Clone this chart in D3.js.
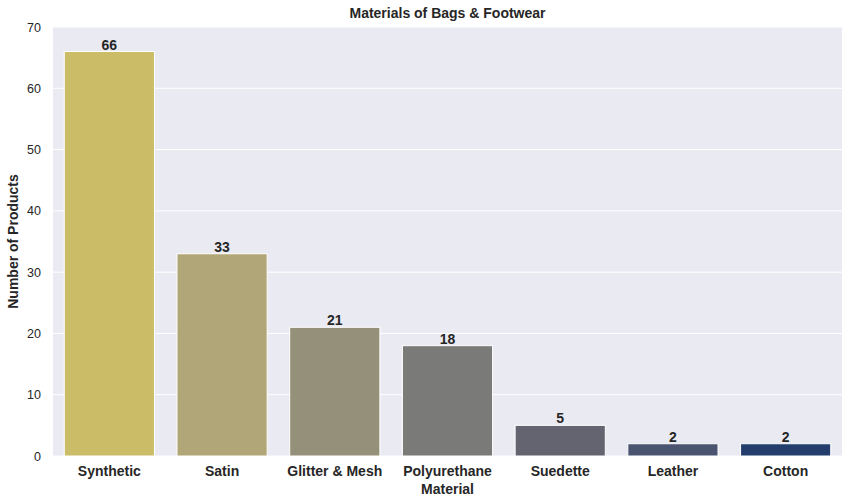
<!DOCTYPE html>
<meta charset="utf-8">
<title>Materials of Bags & Footwear</title>
<style>
  body { margin: 0; background: white; font-family: "Liberation Sans", Arial, sans-serif; }
  svg { display: block; }
  .tick text { font-size: 12.5px; fill: #262626; }
</style>
<body>
<div id="chart"></div>
<script src="https://d3js.org/d3.v7.min.js"></script>
<script>
// data
var materials = ["Synthetic", "Satin", "Glitter & Mesh", "Polyurethane", "Suedette", "Leather", "Cotton"];
var counts = [66, 33, 21, 18, 5, 2, 2];
var barColors = ["#cbbd68", "#b0a677", "#959079", "#7a7a78", "#636470", "#4a5470", "#233e6c"];
var yTicks = [0, 10, 20, 30, 40, 50, 60, 70];

var width = 850, height = 504;
var margin = {top: 27, right: 8, bottom: 48, left: 53};
var w = width - margin.left - margin.right,
    h = height - margin.top - margin.bottom;

var svg = d3.select("#chart").append("svg")
    .attr("width", width)
    .attr("height", height);

var g = svg.append("g")
    .attr("transform", "translate(" + margin.left + "," + margin.top + ")");

// background of the plot (seaborn darkgrid)
g.append("rect")
    .attr("width", w)
    .attr("height", h)
    .attr("fill", "#eaeaf2");

var x = d3.scaleBand()
    .domain(materials)
    .range([0, w])
    .paddingInner(0.2)
    .paddingOuter(0.1);

var y = d3.scaleLinear()
    .domain([0, 70])
    .range([h, 0]);

// grid lines
g.selectAll("line.grid")
  .data(yTicks)
  .enter()
  .append("line")
    .attr("class", "grid")
    .attr("x1", 0)
    .attr("x2", w)
    .attr("y1", function(d) { return y(d); })
    .attr("y2", function(d) { return y(d); })
    .attr("stroke", "white")
    .attr("stroke-width", 1);

// bars
g.selectAll("rect.bar")
  .data(counts)
  .enter()
  .append("rect")
    .attr("class", "bar")
    .attr("x", function(d, i) { return x(materials[i]); })
    .attr("y", function(d) { return y(d); })
    .attr("width", x.bandwidth())
    .attr("height", function(d) { return h - y(d); })
    .attr("fill", function(d, i) { return barColors[i]; })
    .attr("stroke", "white")
    .attr("stroke-width", 1);

// value labels
g.selectAll("text.val")
  .data(counts)
  .enter()
  .append("text")
    .attr("class", "val")
    .attr("x", function(d, i) { return x(materials[i]) + x.bandwidth() / 2; })
    .attr("y", function(d) { return y(d) - 2; })
    .attr("text-anchor", "middle")
    .style("font-size", "14px")
    .style("font-weight", "bold")
    .style("fill", "#262626")
    .text(function(d) { return d; });

// axes
var xAxis = g.append("g")
    .attr("transform", "translate(0," + h + ")")
    .call(d3.axisBottom(x).tickSize(0).tickPadding(10));
xAxis.select(".domain").remove();
xAxis.selectAll("text")
    .style("font-size", "14px")
    .style("font-weight", "bold");

var yAxis = g.append("g")
    .call(d3.axisLeft(y).tickValues(yTicks).tickSize(0).tickPadding(12));
yAxis.select(".domain").remove();

// titles
svg.append("text")
    .attr("x", margin.left + w / 2)
    .attr("y", 18)
    .attr("text-anchor", "middle")
    .style("font-size", "14px")
    .style("font-weight", "bold")
    .style("fill", "#262626")
    .text("Materials of Bags & Footwear");

svg.append("text")
    .attr("x", margin.left + w / 2)
    .attr("y", 494)
    .attr("text-anchor", "middle")
    .style("font-size", "14px")
    .style("font-weight", "bold")
    .style("fill", "#262626")
    .text("Material");

svg.append("text")
    .attr("transform", "translate(18," + (margin.top + h / 2) + ") rotate(-90)")
    .attr("text-anchor", "middle")
    .style("font-size", "14px")
    .style("font-weight", "bold")
    .style("fill", "#262626")
    .text("Number of Products");
</script>
</body>
